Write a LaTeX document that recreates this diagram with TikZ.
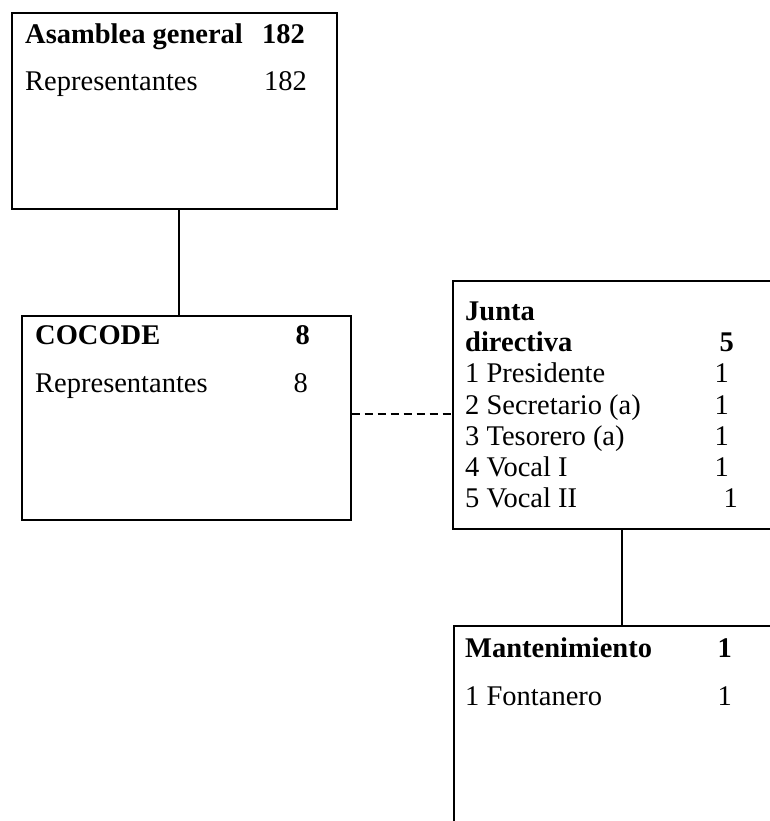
\documentclass[tikz,border=0pt]{standalone}
\usepackage{fontspec}
\setmainfont{Liberation Serif}
\begin{document}
\begin{tikzpicture}[x=1pt,y=-1pt,
  box/.style={draw=black,line width=1.6pt,rectangle,inner sep=0pt,anchor=north west},
  lbl/.style={inner sep=0pt,anchor=base west,font=\fontsize{28.5}{34}\selectfont},
  num/.style={inner sep=0pt,anchor=base east,font=\fontsize{28.5}{34}\selectfont},
  blbl/.style={lbl,font=\fontsize{28.5}{34}\selectfont\bfseries},
  bnum/.style={num,font=\fontsize{28.5}{34}\selectfont\bfseries},
  link/.style={draw=black,line width=1.6pt},
  dlink/.style={link,dash pattern=on 8pt off 5pt}]
\useasboundingbox (0,0) rectangle (770,821);
\clip (0,0) rectangle (770,821);
\fill[white] (0,0) rectangle (770,821);
% boxes
\node[box,minimum width=325pt,minimum height=196pt] (asm) at (11,12) {};
\node[box,minimum width=329pt,minimum height=204pt] (coc) at (21,315) {};
\node[box,minimum width=340pt,minimum height=248pt] (jun) at (452,280) {};
\node[box,minimum width=340pt,minimum height=230pt] (man) at (453,625) {};
% texts: Asamblea
\node[blbl] (t1) at (25,44) {Asamblea general};
\node[bnum] (n1) at (305,44) {182};
\node[lbl] (t2) at (25,91) {Representantes};
\node[num] (n2) at (307,91) {182};
% COCODE
\node[blbl] (t3) at (35,344) {COCODE};
\node[bnum] (n3) at (310,344) {8};
\node[lbl] (t4) at (35,392) {Representantes};
\node[num] (n4) at (308,392) {8};
% Junta
\node[blbl] (t5) at (465,320) {Junta};
\node[blbl] (t6) at (465,351) {directiva};
\node[bnum] (n6) at (734,351) {5};
\node[lbl] (t7) at (465,382) {1 Presidente};
\node[num] (n7) at (729,382) {1};
\node[lbl] (t8) at (465,414) {2 Secretario (a)};
\node[num] (n8) at (729,414) {1};
\node[lbl] (t9) at (465,445) {3 Tesorero (a)};
\node[num] (n9) at (729,445) {1};
\node[lbl] (t10) at (465,476) {4 Vocal I};
\node[num] (n10) at (729,476) {1};
\node[lbl] (t11) at (465,507) {5 Vocal II};
\node[num] (n11) at (738,507) {1};
% Mantenimiento
\node[blbl] (t12) at (465,657) {Mantenimiento};
\node[bnum] (n12) at (732,657) {1};
\node[lbl] (t13) at (465,705) {1 Fontanero};
\node[num] (n13) at (732,705) {1};
% connectors
\draw[link] ([xshift=4.5pt]asm.south) -- ([xshift=4.5pt]asm.south |- coc.north);
\draw[dlink] ([yshift=4pt]coc.east) -- ([yshift=4pt]coc.east -| jun.west);
\draw[link] ([xshift=-1pt]jun.south) -- ([xshift=-1pt]jun.south |- man.north);
\end{tikzpicture}
\end{document}
